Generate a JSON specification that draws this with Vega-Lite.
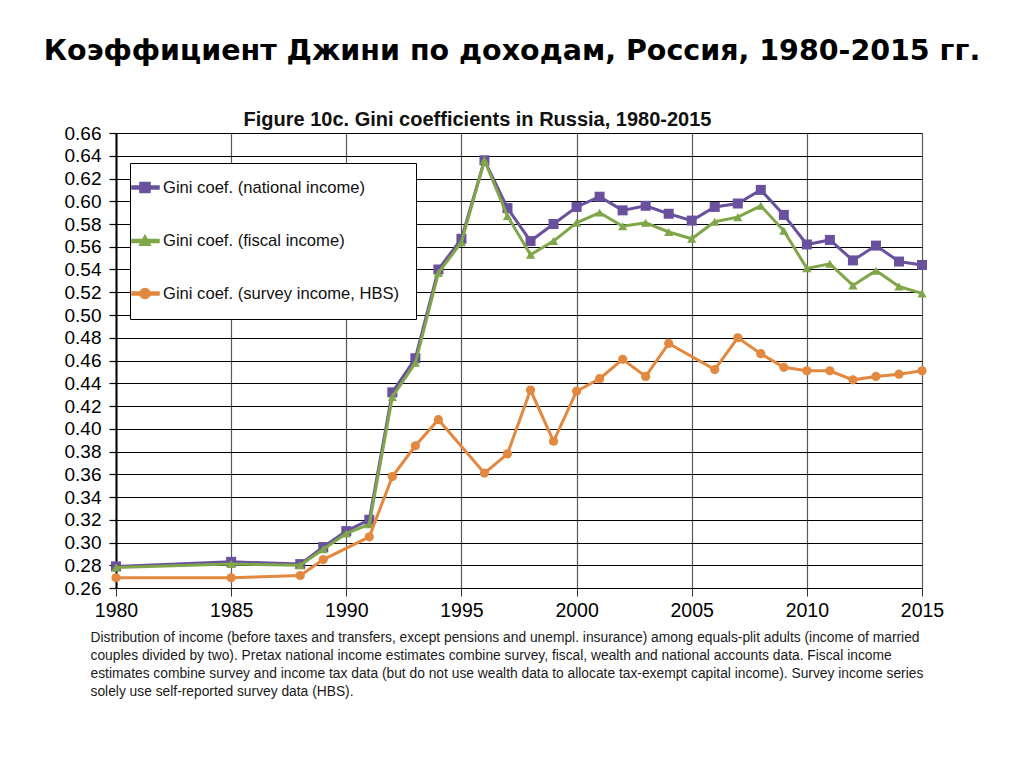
{
  "$schema": "https://vega.github.io/schema/vega-lite/v6.json",
  "autosize": {"type": "none"},
  "padding": {"left": 116, "top": 133, "right": 102, "bottom": 179},
  "width": 806,
  "height": 455,
  "background": "white",
  "config": {"view": {"stroke": null}, "font": "Liberation Sans"},
  "title": {
    "text": "Коэффициент Джини по доходам, Россия, 1980-2015 гг.",
    "font": "DejaVu Sans",
    "fontSize": 28.5,
    "fontWeight": "bold",
    "color": "black",
    "anchor": "middle",
    "frame": "group",
    "dx": -7,
    "offset": 44
  },
  "data": {
    "values": [
      {"year": 1980, "series": "Gini coef. (national income)", "value": 0.279},
      {"year": 1985, "series": "Gini coef. (national income)", "value": 0.283},
      {"year": 1988, "series": "Gini coef. (national income)", "value": 0.281},
      {"year": 1989, "series": "Gini coef. (national income)", "value": 0.296},
      {"year": 1990, "series": "Gini coef. (national income)", "value": 0.310},
      {"year": 1991, "series": "Gini coef. (national income)", "value": 0.320},
      {"year": 1992, "series": "Gini coef. (national income)", "value": 0.432},
      {"year": 1993, "series": "Gini coef. (national income)", "value": 0.462},
      {"year": 1994, "series": "Gini coef. (national income)", "value": 0.540},
      {"year": 1995, "series": "Gini coef. (national income)", "value": 0.567},
      {"year": 1996, "series": "Gini coef. (national income)", "value": 0.636},
      {"year": 1997, "series": "Gini coef. (national income)", "value": 0.594},
      {"year": 1998, "series": "Gini coef. (national income)", "value": 0.565},
      {"year": 1999, "series": "Gini coef. (national income)", "value": 0.580},
      {"year": 2000, "series": "Gini coef. (national income)", "value": 0.595},
      {"year": 2001, "series": "Gini coef. (national income)", "value": 0.604},
      {"year": 2002, "series": "Gini coef. (national income)", "value": 0.592},
      {"year": 2003, "series": "Gini coef. (national income)", "value": 0.596},
      {"year": 2004, "series": "Gini coef. (national income)", "value": 0.589},
      {"year": 2005, "series": "Gini coef. (national income)", "value": 0.583},
      {"year": 2006, "series": "Gini coef. (national income)", "value": 0.595},
      {"year": 2007, "series": "Gini coef. (national income)", "value": 0.598},
      {"year": 2008, "series": "Gini coef. (national income)", "value": 0.610},
      {"year": 2009, "series": "Gini coef. (national income)", "value": 0.588},
      {"year": 2010, "series": "Gini coef. (national income)", "value": 0.562},
      {"year": 2011, "series": "Gini coef. (national income)", "value": 0.566},
      {"year": 2012, "series": "Gini coef. (national income)", "value": 0.548},
      {"year": 2013, "series": "Gini coef. (national income)", "value": 0.561},
      {"year": 2014, "series": "Gini coef. (national income)", "value": 0.547},
      {"year": 2015, "series": "Gini coef. (national income)", "value": 0.544},
      {"year": 1980, "series": "Gini coef. (fiscal income)", "value": 0.278},
      {"year": 1985, "series": "Gini coef. (fiscal income)", "value": 0.281},
      {"year": 1988, "series": "Gini coef. (fiscal income)", "value": 0.280},
      {"year": 1989, "series": "Gini coef. (fiscal income)", "value": 0.294},
      {"year": 1990, "series": "Gini coef. (fiscal income)", "value": 0.308},
      {"year": 1991, "series": "Gini coef. (fiscal income)", "value": 0.316},
      {"year": 1992, "series": "Gini coef. (fiscal income)", "value": 0.428},
      {"year": 1993, "series": "Gini coef. (fiscal income)", "value": 0.458},
      {"year": 1994, "series": "Gini coef. (fiscal income)", "value": 0.537},
      {"year": 1995, "series": "Gini coef. (fiscal income)", "value": 0.564},
      {"year": 1996, "series": "Gini coef. (fiscal income)", "value": 0.636},
      {"year": 1997, "series": "Gini coef. (fiscal income)", "value": 0.587},
      {"year": 1998, "series": "Gini coef. (fiscal income)", "value": 0.553},
      {"year": 1999, "series": "Gini coef. (fiscal income)", "value": 0.565},
      {"year": 2000, "series": "Gini coef. (fiscal income)", "value": 0.581},
      {"year": 2001, "series": "Gini coef. (fiscal income)", "value": 0.590},
      {"year": 2002, "series": "Gini coef. (fiscal income)", "value": 0.578},
      {"year": 2003, "series": "Gini coef. (fiscal income)", "value": 0.581},
      {"year": 2004, "series": "Gini coef. (fiscal income)", "value": 0.573},
      {"year": 2005, "series": "Gini coef. (fiscal income)", "value": 0.567},
      {"year": 2006, "series": "Gini coef. (fiscal income)", "value": 0.582},
      {"year": 2007, "series": "Gini coef. (fiscal income)", "value": 0.586},
      {"year": 2008, "series": "Gini coef. (fiscal income)", "value": 0.596},
      {"year": 2009, "series": "Gini coef. (fiscal income)", "value": 0.574},
      {"year": 2010, "series": "Gini coef. (fiscal income)", "value": 0.541},
      {"year": 2011, "series": "Gini coef. (fiscal income)", "value": 0.545},
      {"year": 2012, "series": "Gini coef. (fiscal income)", "value": 0.526},
      {"year": 2013, "series": "Gini coef. (fiscal income)", "value": 0.539},
      {"year": 2014, "series": "Gini coef. (fiscal income)", "value": 0.525},
      {"year": 2015, "series": "Gini coef. (fiscal income)", "value": 0.519},
      {"year": 1980, "series": "Gini coef. (survey income, HBS)", "value": 0.269},
      {"year": 1985, "series": "Gini coef. (survey income, HBS)", "value": 0.269},
      {"year": 1988, "series": "Gini coef. (survey income, HBS)", "value": 0.271},
      {"year": 1989, "series": "Gini coef. (survey income, HBS)", "value": 0.285},
      {"year": 1991, "series": "Gini coef. (survey income, HBS)", "value": 0.305},
      {"year": 1992, "series": "Gini coef. (survey income, HBS)", "value": 0.358},
      {"year": 1993, "series": "Gini coef. (survey income, HBS)", "value": 0.385},
      {"year": 1994, "series": "Gini coef. (survey income, HBS)", "value": 0.408},
      {"year": 1996, "series": "Gini coef. (survey income, HBS)", "value": 0.361},
      {"year": 1997, "series": "Gini coef. (survey income, HBS)", "value": 0.378},
      {"year": 1998, "series": "Gini coef. (survey income, HBS)", "value": 0.434},
      {"year": 1999, "series": "Gini coef. (survey income, HBS)", "value": 0.389},
      {"year": 2000, "series": "Gini coef. (survey income, HBS)", "value": 0.433},
      {"year": 2001, "series": "Gini coef. (survey income, HBS)", "value": 0.444},
      {"year": 2002, "series": "Gini coef. (survey income, HBS)", "value": 0.461},
      {"year": 2003, "series": "Gini coef. (survey income, HBS)", "value": 0.446},
      {"year": 2004, "series": "Gini coef. (survey income, HBS)", "value": 0.475},
      {"year": 2006, "series": "Gini coef. (survey income, HBS)", "value": 0.452},
      {"year": 2007, "series": "Gini coef. (survey income, HBS)", "value": 0.480},
      {"year": 2008, "series": "Gini coef. (survey income, HBS)", "value": 0.466},
      {"year": 2009, "series": "Gini coef. (survey income, HBS)", "value": 0.454},
      {"year": 2010, "series": "Gini coef. (survey income, HBS)", "value": 0.451},
      {"year": 2011, "series": "Gini coef. (survey income, HBS)", "value": 0.451},
      {"year": 2012, "series": "Gini coef. (survey income, HBS)", "value": 0.443},
      {"year": 2013, "series": "Gini coef. (survey income, HBS)", "value": 0.446},
      {"year": 2014, "series": "Gini coef. (survey income, HBS)", "value": 0.448},
      {"year": 2015, "series": "Gini coef. (survey income, HBS)", "value": 0.451}
    ]
  },
  "resolve": {"axis": {"x": "independent"}},
  "layer": [
    {
      "transform": [{"filter": "datum.series === 'Gini coef. (national income)'"}],
      "mark": {"type": "line", "strokeWidth": 3, "clip": false},
      "encoding": {
        "x": {
          "field": "year",
          "type": "quantitative",
          "scale": {"domain": [1980, 2015], "nice": false, "zero": false},
          "axis": {
            "values": [1980, 1985, 1990, 1995, 2000, 2005, 2010, 2015],
            "tickCount": 40,
            "format": "d",
            "grid": true,
            "gridColor": "#5a5a5a",
            "gridWidth": 1.2,
            "gridOpacity": 1,
            "domain": true,
            "domainColor": "black",
            "domainWidth": 1.2,
            "ticks": true,
            "tickColor": "#333",
            "tickSize": 8,
            "labelFont": "Liberation Sans",
            "labelFontSize": 19.5,
            "labelColor": "black",
            "labelPadding": 5,
            "labelFlush": false,
            "labelOverlap": false,
            "title": [
              "Distribution of income (before taxes and transfers, except pensions and unempl. insurance) among equals-plit adults (income of married",
              "couples divided by two). Pretax national income estimates combine survey, fiscal, wealth and national accounts data. Fiscal income",
              "estimates combine survey and income tax data (but do not use wealth data to allocate tax-exempt capital income). Survey income series",
              "solely use self-reported survey data (HBS)."
            ],
            "titleFont": "Liberation Sans",
            "titleFontSize": 13.8,
            "titleFontWeight": "normal",
            "titleColor": "#1a1a1a",
            "titleAnchor": "start",
            "titleAlign": "left",
            "titleBaseline": "top",
            "titleX": -26,
            "titleY": 42,
            "titleLineHeight": 18
          }
        },
        "y": {
          "field": "value",
          "type": "quantitative",
          "scale": {"domain": [0.26, 0.66], "nice": false, "zero": false},
          "axis": {
            "values": [0.26, 0.28, 0.30, 0.32, 0.34, 0.36, 0.38, 0.40, 0.42, 0.44, 0.46, 0.48, 0.50, 0.52, 0.54, 0.56, 0.58, 0.60, 0.62, 0.64, 0.66],
            "tickCount": 40,
            "format": ".2f",
            "grid": true,
            "gridColor": "black",
            "gridWidth": 1.2,
            "gridOpacity": 1,
            "domain": true,
            "domainColor": "black",
            "domainWidth": 2,
            "ticks": true,
            "tickColor": "black",
            "tickSize": 7,
            "tickWidth": 1.2,
            "labelFont": "Liberation Sans",
            "labelFontSize": 19,
            "labelColor": "black",
            "labelPadding": 8,
            "labelFlush": false,
            "labelOverlap": false,
            "title": null
          }
        },
        "color": {
          "field": "series",
          "type": "nominal",
          "scale": {
            "domain": ["Gini coef. (national income)", "Gini coef. (fiscal income)", "Gini coef. (survey income, HBS)"],
            "range": ["#6A519E", "#7FA648", "#E2883F"]
          },
          "legend": {
            "orient": "none",
            "legendX": 14,
            "legendY": 30,
            "title": null,
            "strokeColor": "black",
            "fillColor": "white",
            "padding": 16,
            "symbolSize": 225,
            "labelOffset": 0,
            "rowPadding": 34.5,
            "labelFont": "Liberation Sans",
            "labelFontSize": 16.6,
            "labelColor": "#111",
            "labelLimit": 400,
            "encode": {
              "symbols": {
                "update": {
                  "shape": {"signal": "datum.value === 'Gini coef. (national income)' ? 'M-3,-0.2H0.6V0.2H-3Z M-1.94,-0.67H-0.6V0.67H-1.94Z' : datum.value === 'Gini coef. (fiscal income)' ? 'M-3,-0.2H0.6V0.2H-3Z M-1.27,-0.75L-0.55,0.55H-1.99Z' : 'M-3,-0.2H0.6V0.2H-3Z M-1.94,0A0.67,0.67 0 1,1 -0.6,0A0.67,0.67 0 1,1 -1.94,0Z'"},
                  "fill": {"signal": "scale('color', datum.value)"},
                  "stroke": {"value": "transparent"},
                  "size": {"value": 225},
                  "opacity": {"value": 1},
                  "fillOpacity": {"value": 1}
                }
              }
            }
          }
        }
      }
    },
    {
      "transform": [{"filter": "datum.series === 'Gini coef. (national income)'"}],
      "mark": {"type": "point", "shape": "square", "filled": true, "opacity": 1, "size": 100, "clip": false},
      "encoding": {
        "x": {
          "field": "year",
          "type": "quantitative",
          "axis": {
            "orient": "top",
            "labels": false,
            "ticks": false,
            "domain": false,
            "grid": false,
            "title": "Figure 10c. Gini coefficients in Russia, 1980-2015",
            "titleFont": "Liberation Sans",
            "titleFontSize": 20,
            "titleFontWeight": "bold",
            "titleColor": "#111",
            "titleX": 361,
            "titleY": -8,
            "titleAnchor": "middle",
            "titleBaseline": "alphabetic"
          }
        },
        "y": {"field": "value", "type": "quantitative"},
        "color": {"field": "series", "type": "nominal"}
      }
    },
    {
      "transform": [{"filter": "datum.series === 'Gini coef. (fiscal income)'"}],
      "mark": {"type": "line", "strokeWidth": 3, "clip": false},
      "encoding": {
        "x": {"field": "year", "type": "quantitative", "axis": null},
        "y": {"field": "value", "type": "quantitative"},
        "color": {"field": "series", "type": "nominal"}
      }
    },
    {
      "transform": [{"filter": "datum.series === 'Gini coef. (fiscal income)'"}],
      "mark": {"type": "point", "shape": "triangle-up", "filled": true, "opacity": 1, "size": 85, "clip": false},
      "encoding": {
        "x": {"field": "year", "type": "quantitative", "axis": null},
        "y": {"field": "value", "type": "quantitative"},
        "color": {"field": "series", "type": "nominal"}
      }
    },
    {
      "transform": [{"filter": "datum.series === 'Gini coef. (survey income, HBS)'"}],
      "mark": {"type": "line", "strokeWidth": 3, "clip": false},
      "encoding": {
        "x": {"field": "year", "type": "quantitative", "axis": null},
        "y": {"field": "value", "type": "quantitative"},
        "color": {"field": "series", "type": "nominal"}
      }
    },
    {
      "transform": [{"filter": "datum.series === 'Gini coef. (survey income, HBS)'"}],
      "mark": {"type": "point", "shape": "circle", "filled": true, "opacity": 1, "size": 85, "clip": false},
      "encoding": {
        "x": {"field": "year", "type": "quantitative", "axis": null},
        "y": {"field": "value", "type": "quantitative"},
        "color": {"field": "series", "type": "nominal"}
      }
    }
  ]
}
